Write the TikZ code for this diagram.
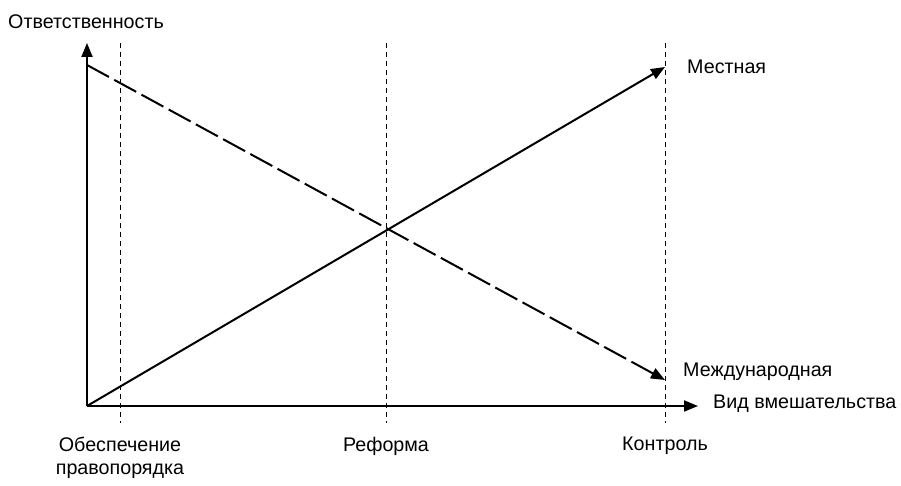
\documentclass[tikz,border=0pt]{standalone}
\usepackage{fontspec}
\setmainfont{Liberation Sans}
\usetikzlibrary{arrows.meta}
\begin{document}
\begin{tikzpicture}[x=1pt,y=-1pt,font=\fontsize{19.7}{23}\selectfont,
	axis/.style={line width=2pt,-{Triangle[length=14pt,width=11pt]}},
	guide/.style={line width=0.9pt,dash pattern=on 5pt off 4pt},
	lbl/.style={inner sep=0pt}]
	\useasboundingbox(0,0)rectangle(901,486);
	% axes
	\coordinate(O)at(87,406);
	\coordinate(ytip)at(87,43);
	\coordinate(xtip)at(698,406);
	\draw[axis](O)--(ytip);
	\draw[axis](O)--(xtip);
	% guides
	\foreach \n/\x in {law/120,ref/386,ctl/665}{
		\coordinate(\n top)at(\x,43);
		\coordinate(\n bot)at(\x,423);
		\draw[guide](\n top)--(\n bot);
	}
	% lines
	\coordinate(locE)at(665,67);
	\coordinate(intS)at(87,65);
	\coordinate(intE)at(665,380);
	\draw[axis](O)--(locE);
	\draw[axis,dash pattern=on 25pt off 6pt](intS)--(intE);
	% texts
	\node[lbl,anchor=west](resp)at(8,22){Ответственность};
	\node[lbl,anchor=west](loc)at(687,67){Местная};
	\node[lbl,anchor=west](int)at(683,372){Международная};
	\node[lbl,anchor=west](kind)at(713,404){Вид вмешательства};
	\node[lbl,align=center,anchor=north](law)at(120,437){Обеспечение\\правопорядка};
	\node[lbl,anchor=north](ref)at(386,437){Реформа};
	\node[lbl,anchor=north](ctl)at(665,437){Контроль};
\end{tikzpicture}
\end{document}
